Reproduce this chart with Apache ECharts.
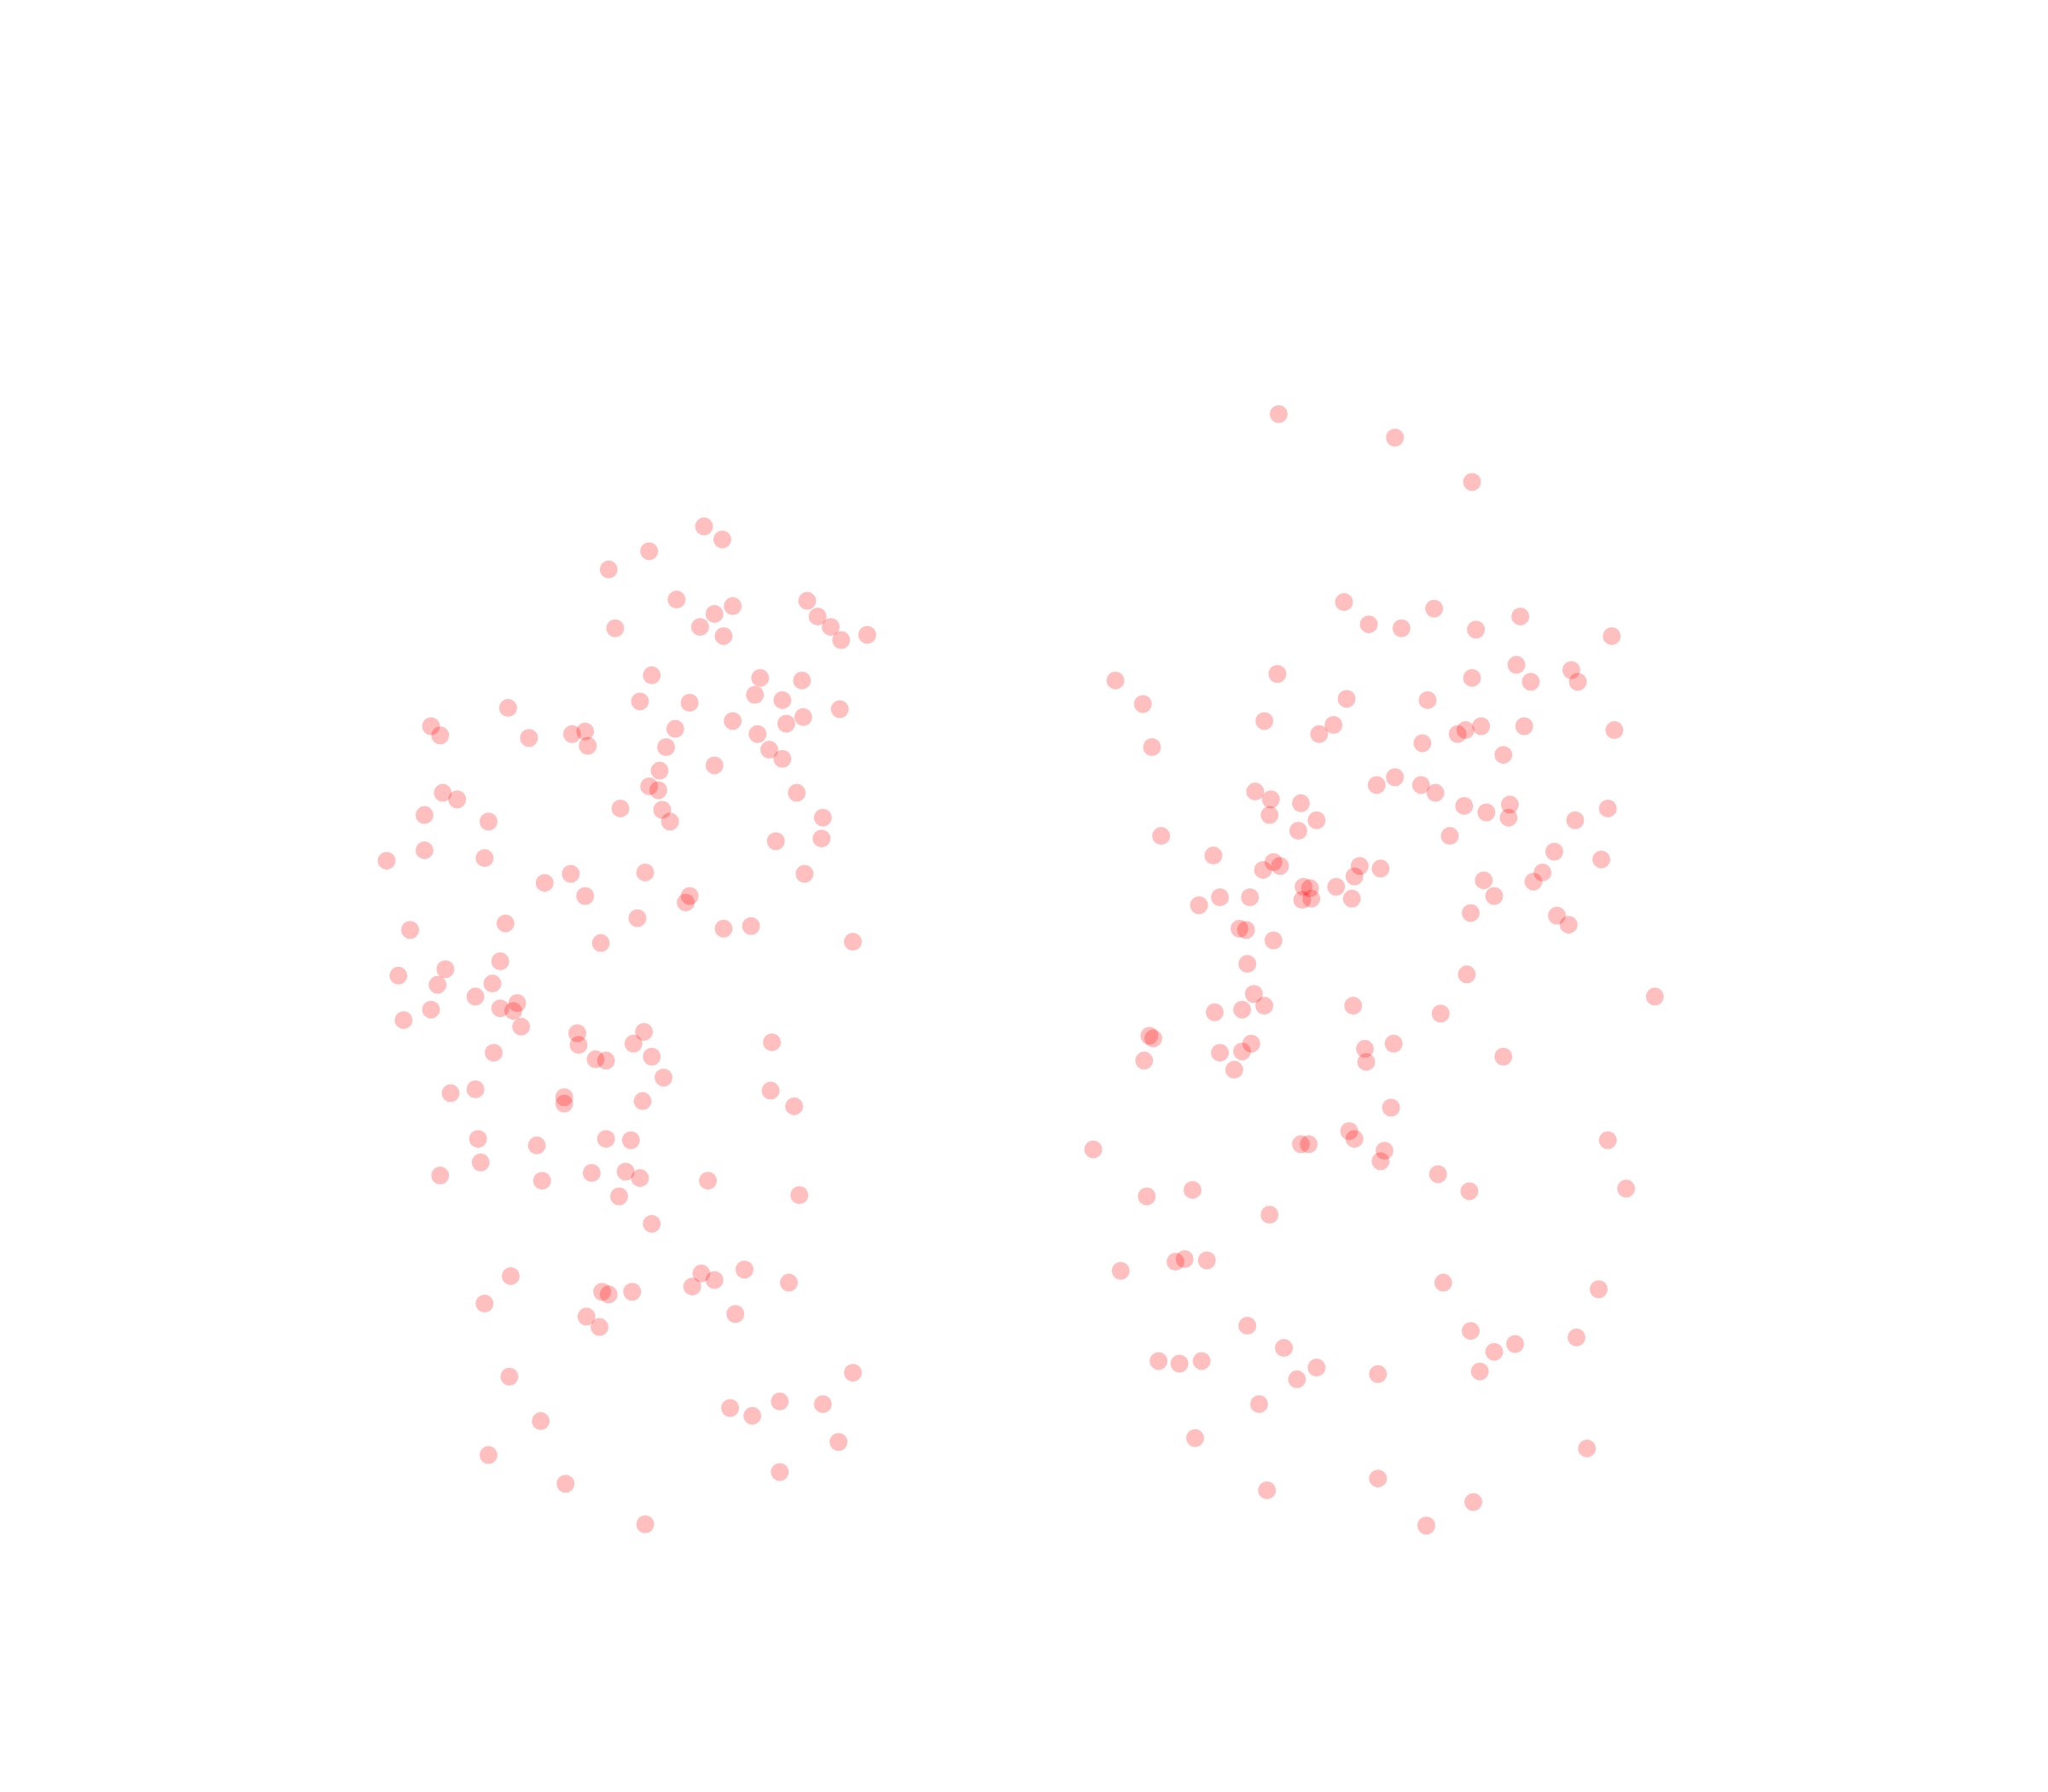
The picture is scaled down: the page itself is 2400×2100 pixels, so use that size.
<!DOCTYPE html>
<html>
<head>
<meta charset="utf-8">
<script src="https://cdn.jsdelivr.net/npm/echarts@6/dist/echarts.min.js"></script>
<style>html,body{margin:0;padding:0;background:#fff}#main{width:2400px;height:2100px}</style>
</head>
<body>
<div id="main"></div>
<script>
// Values (axes are hidden; units are arbitrary chart units)
const groupA = [
[539,403],[553,413],[497,422],[466,436],[518,459],[561,464],[547,470],[618,460],[626,472],[636,480],[644,490],[664,486],[471,481],[536,480],[554,487],[499,517],[582,519],[614,521],[490,537],[528,538],[599,536],[578,532],[643,543],[615,549],[602,554],[561,552],[517,558],[580,562],[330,556],[337,563],[389,542],[405,565],[438,562],[448,560],[450,571],[510,572],[589,574],[599,581],[547,586],[505,590],[497,602],[504,605],[610,607],[339,607],[350,612],[325,624],[374,629],[475,619],[507,620],[513,629],[630,626],[594,644],[629,642],[296,659],[325,651],[371,657],[437,669],[494,668],[417,676],[448,686],[528,686],[525,691],[616,669],[488,703],[554,711],[575,709],[314,712],[387,707],[460,722],[653,721],[305,747],[341,742],[335,754],[383,736],[377,753],[364,763],[309,781],[330,773],[383,772],[396,768],[393,774],[399,786],[442,791],[443,800],[493,790],[485,799],[591,798],[378,806],[456,811],[464,812],[499,809],[508,825],[345,837],[364,834],[432,840],[432,845],[492,843],[590,835],[608,847],[366,872],[411,877],[464,872],[483,873],[337,900],[368,890],[415,904],[453,898],[479,897],[490,902],[542,904],[474,916],[612,915],[499,937],[391,977],[371,998],[461,989],[466,991],[484,989],[530,985],[537,975],[547,980],[570,972],[604,982],[449,1008],[459,1016],[563,1006],[390,1054],[653,1051],[559,1078],[576,1084],[597,1073],[630,1075],[414,1088],[642,1104],[374,1114],[597,1127],[433,1136],[494,1167]
];
const groupB = [
[979,317],[1068,335],[1127,369],[1029,461],[1098,466],[1048,478],[1073,481],[1130,482],[1164,472],[1234,487],[854,521],[978,516],[1127,519],[1161,509],[1172,522],[1203,513],[1208,522],[875,539],[1031,535],[1093,536],[968,552],[1021,555],[1010,562],[1089,569],[1116,562],[1122,559],[1134,556],[1167,556],[1236,559],[882,572],[1151,578],[1054,601],[1068,595],[1088,601],[1099,607],[961,606],[973,612],[996,615],[972,624],[1008,628],[994,636],[1121,617],[1138,622],[1156,616],[1155,626],[1206,628],[1231,619],[889,640],[1110,640],[929,655],[967,666],[975,660],[980,663],[1041,663],[1057,665],[1023,679],[998,679],[1003,680],[1037,671],[1190,652],[1226,658],[1136,674],[1181,668],[1174,675],[918,693],[934,687],[957,687],[997,689],[1004,688],[1035,688],[1144,686],[1126,699],[1192,701],[1201,708],[949,711],[954,712],[975,720],[955,738],[1123,746],[960,761],[968,770],[930,775],[951,773],[1036,770],[1103,776],[1267,763],[880,793],[883,795],[958,799],[934,806],[951,805],[1045,803],[1067,799],[1046,813],[876,812],[945,819],[1151,809],[1065,848],[1033,866],[1037,872],[996,876],[1002,876],[1060,881],[1057,889],[1231,873],[837,880],[878,916],[913,911],[1101,899],[1125,912],[1245,910],[972,930],[900,966],[907,964],[924,965],[858,973],[1105,982],[1224,987],[955,1015],[983,1032],[1126,1019],[1160,1029],[1207,1024],[1144,1035],[887,1042],[903,1044],[920,1042],[1008,1047],[993,1056],[1055,1052],[1133,1050],[964,1075],[915,1101],[1215,1109],[970,1141],[1055,1132],[1128,1150],[1092,1168]
];
const xRange = [0, 1568];
const yRange = [0, 1372];

const chart = echarts.init(document.getElementById('main'), null, {renderer: 'canvas'});
const pointStyle = { color: 'red', opacity: 0.25 };
chart.setOption({
  animation: false,
  grid: { left: 0, right: 0, top: 0, bottom: 0 },
  xAxis: { type: 'value', min: xRange[0], max: xRange[1], show: false },
  yAxis: { type: 'value', min: yRange[0], max: yRange[1], inverse: true, show: false },
  series: [
    { type: 'scatter', data: groupA, symbolSize: 21, itemStyle: pointStyle },
    { type: 'scatter', data: groupB, symbolSize: 21, itemStyle: pointStyle }
  ]
});
</script>
</body>
</html>
